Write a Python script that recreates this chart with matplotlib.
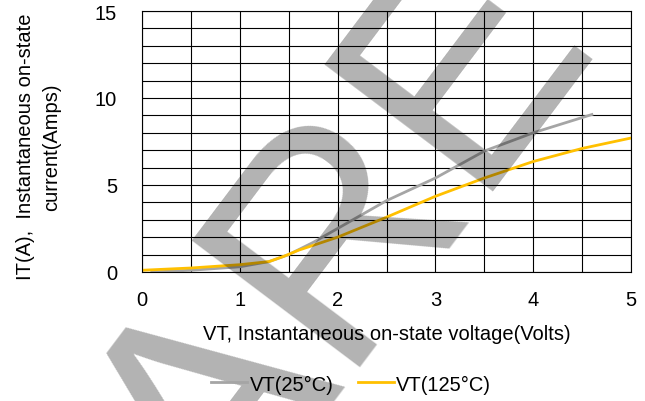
import matplotlib
matplotlib.use("Agg")
import matplotlib.pyplot as plt
from matplotlib.ticker import MultipleLocator

plt.rcParams['font.family'] = ['Liberation Sans', 'DejaVu Sans']

# VT(25°C) curve
v25 = [0.1, 0.5, 1.0, 1.3, 1.5, 1.75, 2.0, 2.5, 3.0, 3.5, 4.0, 4.6]
i25 = [0.0, 0.1, 0.3, 0.6, 1.0, 1.7, 2.5, 4.1, 5.4, 6.95, 8.0, 9.05]

# VT(125°C) curve
v125 = [0.0, 0.5, 1.0, 1.3, 1.45, 1.6, 2.0, 2.5, 3.0, 3.5, 4.0, 4.5, 5.0]
i125 = [0.1, 0.23, 0.42, 0.6, 0.9, 1.25, 2.0, 3.15, 4.35, 5.4, 6.35, 7.1, 7.7]

labels = ["VT(25°C)", "VT(125°C)"]
xlabel = "VT, Instantaneous on-state voltage(Volts)"
ylabel = "IT(A),  Instantaneous on-state\ncurrent(Amps)"
watermark = "ARE"

fig = plt.figure(figsize=(6.45, 4.02), dpi=100)
ax = fig.add_axes([142 / 645, 1 - 273 / 402, 489 / 645, 261 / 402])

ax.plot(v25, i25, color="#a5a5a5", lw=2, label=labels[0])
ax.plot(v125, i125, color="#ffc000", lw=2, label=labels[1])

ax.set_xlim(0, 5)
ax.set_ylim(0, 15)
ax.xaxis.set_major_locator(MultipleLocator(1))
ax.xaxis.set_minor_locator(MultipleLocator(0.5))
ax.yaxis.set_major_locator(MultipleLocator(5))
ax.yaxis.set_minor_locator(MultipleLocator(1))
ax.grid(which="both", color="black", lw=0.8)
ax.set_axisbelow(True)
ax.tick_params(which="both", length=0, labelsize=14.5)
ax.tick_params(axis="x", pad=13)
ax.tick_params(axis="y", pad=18)
for s in ax.spines.values():
    s.set_color("black")
    s.set_linewidth(0.8)

fig.text(387 / 645, 1 - 335 / 402, xlabel, fontsize=14.5, ha="center", va="center")
fig.text(38.5 / 645, 1 - 147 / 402, ylabel, fontsize=14.5, ha="center", va="center",
         rotation=90, multialignment="center", linespacing=1.45)

fig.legend(loc="center", bbox_to_anchor=(351 / 645, 1 - 385 / 402), ncol=2,
           frameon=False, fontsize=14.5, handlelength=1.8, handletextpad=0.1,
           columnspacing=1.2)

# gray watermark letters laid over the chart
fig.text(223 / 645, 1 - 549 / 402, watermark, fontsize=220, color="black", alpha=0.3,
         rotation=53, rotation_mode="anchor", ha="left", va="baseline")

fig.savefig("out.png", dpi=100)
